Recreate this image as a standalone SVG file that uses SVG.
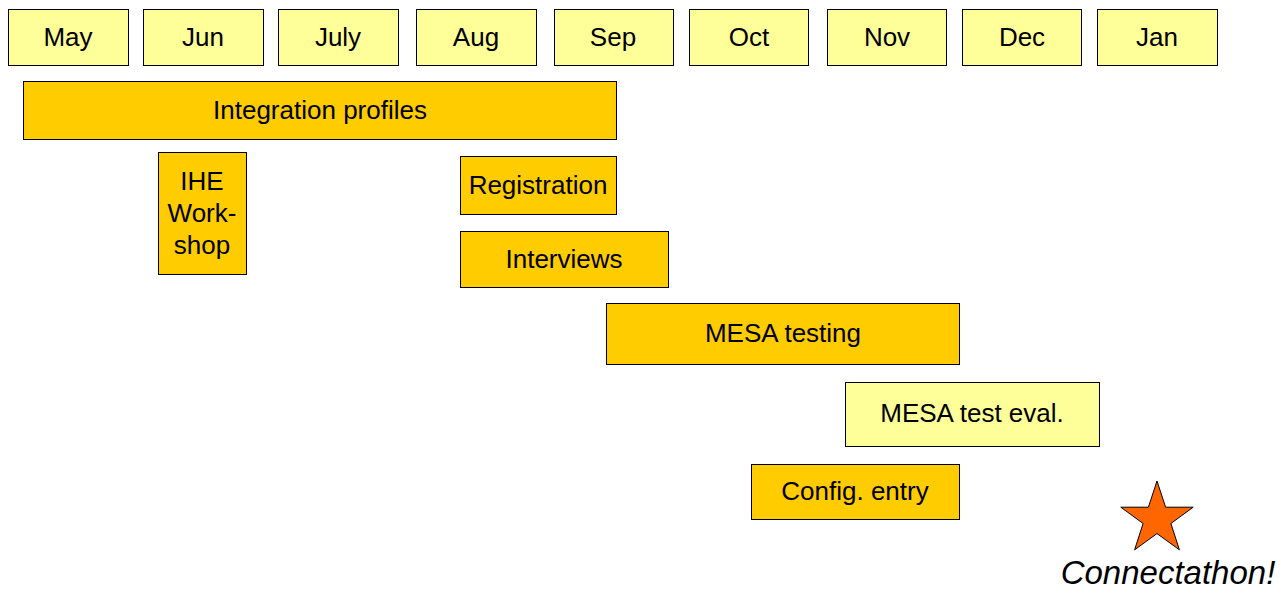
<svg xmlns="http://www.w3.org/2000/svg" width="1287" height="592" viewBox="0 0 1287 592">
<style>
.m,.g{stroke:#000;stroke-width:1}
.m{fill:#FFFF99}
.g{fill:#FFCC00}
text{font-family:"Liberation Sans",Arial,sans-serif;font-size:26px;fill:#000;text-anchor:middle}
.it{font-style:italic;font-size:33px}
</style>
<rect width="1287" height="592" fill="#fff"/>
<g id="months">
<g id="may"><rect class="m" x="8.5" y="9.5" width="120" height="56"/><text x="68" y="46">May</text></g>
<g id="jun"><rect class="m" x="143.5" y="9.5" width="120" height="56"/><text x="203" y="46">Jun</text></g>
<g id="jul"><rect class="m" x="278.5" y="9.5" width="120" height="56"/><text x="338" y="46">July</text></g>
<g id="aug"><rect class="m" x="416.5" y="9.5" width="120" height="56"/><text x="476" y="46">Aug</text></g>
<g id="sep"><rect class="m" x="554.5" y="9.5" width="119" height="56"/><text x="613" y="46">Sep</text></g>
<g id="oct"><rect class="m" x="689.5" y="9.5" width="119" height="56"/><text x="749" y="46">Oct</text></g>
<g id="nov"><rect class="m" x="827.5" y="9.5" width="119" height="56"/><text x="887" y="46">Nov</text></g>
<g id="dec"><rect class="m" x="962.5" y="9.5" width="119" height="56"/><text x="1022" y="46">Dec</text></g>
<g id="jan"><rect class="m" x="1097.5" y="9.5" width="120" height="56"/><text x="1157" y="46">Jan</text></g>
</g>
<g id="integration"><rect class="g" x="23.5" y="81.5" width="593" height="58"/><text x="320" y="119">Integration profiles</text></g>
<g id="workshop"><rect class="g" x="158.5" y="152.5" width="88" height="122"/><text x="202" y="190">IHE</text><text x="202" y="222">Work-</text><text x="202" y="254">shop</text></g>
<g id="registration"><rect class="g" x="460.5" y="156.5" width="156" height="58"/><text x="538" y="194">Registration</text></g>
<g id="interviews"><rect class="g" x="460.5" y="231.5" width="208" height="56"/><text x="564" y="268">Interviews</text></g>
<g id="mesa"><rect class="g" x="606.5" y="303.5" width="353" height="61"/><text x="783" y="342">MESA testing</text></g>
<g id="eval"><rect class="m" x="845.5" y="382.5" width="254" height="64"/><text x="972" y="422">MESA test eval.</text></g>
<g id="config"><rect class="g" x="751.5" y="464.5" width="208" height="55"/><text x="855" y="500">Config. entry</text></g>
<g id="connectathon">
<polygon points="1157,481 1165.6,507.2 1193.2,507.2 1170.9,523.5 1179.4,549.8 1157,533.6 1134.6,549.8 1143.1,523.5 1120.8,507.2 1148.4,507.2" fill="#FF6600" stroke="#000" stroke-width="1"/>
<text class="it" x="1168" y="584">Connectathon!</text>
</g>
<g id="connectors"></g>
</svg>
